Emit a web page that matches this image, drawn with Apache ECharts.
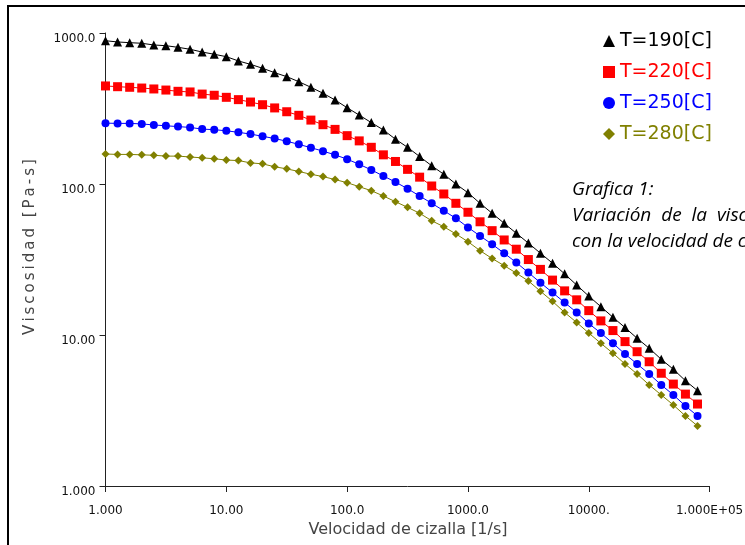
<!DOCTYPE html>
<html>
<head>
<meta charset="utf-8">
<script src="https://cdn.jsdelivr.net/npm/echarts@6/dist/echarts.min.js"></script>
<style>
  html, body { margin: 0; padding: 0; background: #fff; }
  #main { width: 745px; height: 545px; }
</style>
</head>
<body>
<div id="main"></div>
<script>
// velocidad de cizalla [1/s]
var shearRate = [1, 1.259, 1.585, 1.995, 2.512, 3.162, 3.981, 5.012, 6.310, 7.943,
  10, 12.59, 15.85, 19.95, 25.12, 31.62, 39.81, 50.12, 63.10, 79.43,
  100, 125.9, 158.5, 199.5, 251.2, 316.2, 398.1, 501.2, 631.0, 794.3,
  1000, 1259, 1585, 1995, 2512, 3162, 3981, 5012, 6310, 7943,
  10000, 12589, 15849, 19953, 25119, 31623, 39811, 50119, 63096, 79433];

// viscosidad [Pa-s]
var visc190 = [889, 872, 863, 855, 833, 824, 804, 780, 748, 723,
  697, 653, 620, 584, 546, 514, 476, 437, 399, 360,
  320, 286, 255, 228, 198, 175, 152, 132, 116, 100,
  87.5, 74.5, 64.0, 54.9, 47.2, 40.6, 34.8, 29.9, 25.4, 21.4,
  18.1, 15.4, 13.1, 11.2, 9.51, 8.17, 6.90, 5.93, 4.98, 4.28];
var visc220 = [446, 441, 437, 432, 426, 419, 411, 407, 394, 387,
  375, 362, 349, 335, 319, 301, 285, 265, 247, 230,
  209, 193, 175, 156, 141, 125, 111, 97.0, 85.9, 74.5,
  65.0, 56.2, 49.1, 42.6, 37.0, 31.6, 27.2, 23.1, 19.6, 17.1,
  14.5, 12.4, 10.7, 9.04, 7.75, 6.65, 5.58, 4.73, 4.06, 3.49];
var visc250 = [253, 252, 252, 250, 246, 243, 240, 237, 231, 229,
  225, 220, 214, 207, 200, 192, 183, 174, 165, 156,
  146, 135, 124, 113, 103, 93.1, 83.3, 74.5, 66.5, 59.3,
  51.6, 45.3, 39.9, 34.8, 30.2, 25.9, 22.2, 19.1, 16.4, 14.1,
  11.9, 10.3, 8.81, 7.48, 6.43, 5.52, 4.67, 4.01, 3.39, 2.91];
var visc280 = [158, 157, 157, 156, 155, 153, 153, 151, 149, 147,
  144, 143, 138, 136, 130, 126, 121, 116, 112, 107,
  102, 96.0, 90.3, 83.3, 76.3, 70.1, 64.0, 57.1, 52.1, 46.7,
  41.5, 36.2, 32.1, 28.8, 25.7, 22.8, 19.5, 16.7, 14.1, 12.1,
  10.3, 8.81, 7.57, 6.43, 5.52, 4.67, 4.01, 3.44, 2.91, 2.50];

var seriesNames = ['T=190[C]', 'T=220[C]', 'T=250[C]', 'T=280[C]'];
var xTickLabels = ['1.000', '10.00', '100.0', '1000.0', '10000.', '1.000E+05'];
var yTickLabels = ['1.000', '10.00', '100.0', '1000.0'];

function pairs(ys) {
  var out = [];
  for (var i = 0; i < ys.length; i++) out.push([shearRate[i], ys[i]]);
  return out;
}

var colors = ['#000000', '#ff0000', '#0000ff', '#808000'];
var symbols = ['triangle', 'rect', 'circle', 'diamond'];
var sizes = [9, 9, 8, 8];
var allData = [visc190, visc220, visc250, visc280];

var myChart = echarts.init(document.getElementById('main'));

var series = [];
for (var s = 0; s < 4; s++) {
  series.push({
    name: seriesNames[s],
    type: 'line',
    data: pairs(allData[s]),
    symbol: symbols[s],
    symbolSize: sizes[s],
    showAllSymbol: true,
    lineStyle: { color: colors[s], width: 1 },
    itemStyle: { color: colors[s] },
    animation: false
  });
}

// texto con espaciado entre letras, como en el original
var yName = 'Viscosidad [Pa-s]'.split('').join('\u2009');

option = {
  animation: false,
  textStyle: { fontFamily: 'DejaVu Sans' },
  grid: { left: 105.5, right: 35.4, top: 33, bottom: 59, containLabel: false, outerBoundsMode: 'none' },
  legend: {
    orient: 'vertical',
    left: 598,
    top: 26,
    itemWidth: 12,
    itemHeight: 12,
    itemGap: 11,
    textStyle: { fontSize: 19, lineHeight: 20, fontFamily: 'DejaVu Sans' },
    data: seriesNames.map(function (n, i) {
      return { name: n, icon: symbols[i], textStyle: { color: colors[i] }, itemStyle: { color: colors[i] } };
    })
  },
  xAxis: {
    type: 'log',
    logBase: 10,
    min: 1,
    max: 100000,
    splitLine: { show: false },
    minorTick: { show: false },
    axisLine: { lineStyle: { color: '#222', width: 1 } },
    axisTick: { show: true, inside: false, length: 6, lineStyle: { color: '#222' } },
    axisLabel: {
      margin: 19, fontSize: 12, color: '#111', fontFamily: 'DejaVu Sans',
      formatter: function (v) { return xTickLabels[Math.round(Math.log10(v))]; }
    }
  },
  yAxis: {
    type: 'log',
    logBase: 10,
    min: 1,
    max: 1000,
    splitLine: { show: false },
    minorTick: { show: false },
    axisLine: { show: true, lineStyle: { color: '#222', width: 1 } },
    axisTick: { show: true, inside: false, length: 6, lineStyle: { color: '#222' } },
    axisLabel: {
      margin: 10, fontSize: 12, color: '#111', fontFamily: 'DejaVu Sans',
      verticalAlign: 'top', lineHeight: 11,
      formatter: function (v) { return yTickLabels[Math.round(Math.log10(v))]; }
    }
  },
  graphic: [
    { type: 'rect', shape: { x: 8, y: 6, width: 900, height: 700 }, style: { fill: 'none', stroke: '#000', lineWidth: 2 }, silent: true },
    { type: 'text', x: 30, y: 247, rotation: Math.PI / 2,
      style: { text: yName, fill: '#444', font: '15px "DejaVu Sans"', align: 'center', verticalAlign: 'middle' } },
    { type: 'text', x: 408, y: 530,
      style: { text: 'Velocidad de cizalla [1/s]', fill: '#444', font: '16px "DejaVu Sans"', align: 'center', verticalAlign: 'middle' } },
    { type: 'text', x: 572, y: 190,
      style: { text: 'Grafica 1:', fill: '#000', font: 'italic 19px "Open Sans"', align: 'left', verticalAlign: 'middle' } },
    { type: 'text', x: 572, y: 216,
      style: { text: 'Variación  de  la  viscosidad', fill: '#000', font: 'italic 19px "Open Sans"', align: 'left', verticalAlign: 'middle' } },
    { type: 'text', x: 572, y: 242,
      style: { text: 'con la velocidad de cizalla', fill: '#000', font: 'italic 19px "Open Sans"', align: 'left', verticalAlign: 'middle' } }
  ],
  series: series
};

myChart.setOption(option);
</script>
</body>
</html>
